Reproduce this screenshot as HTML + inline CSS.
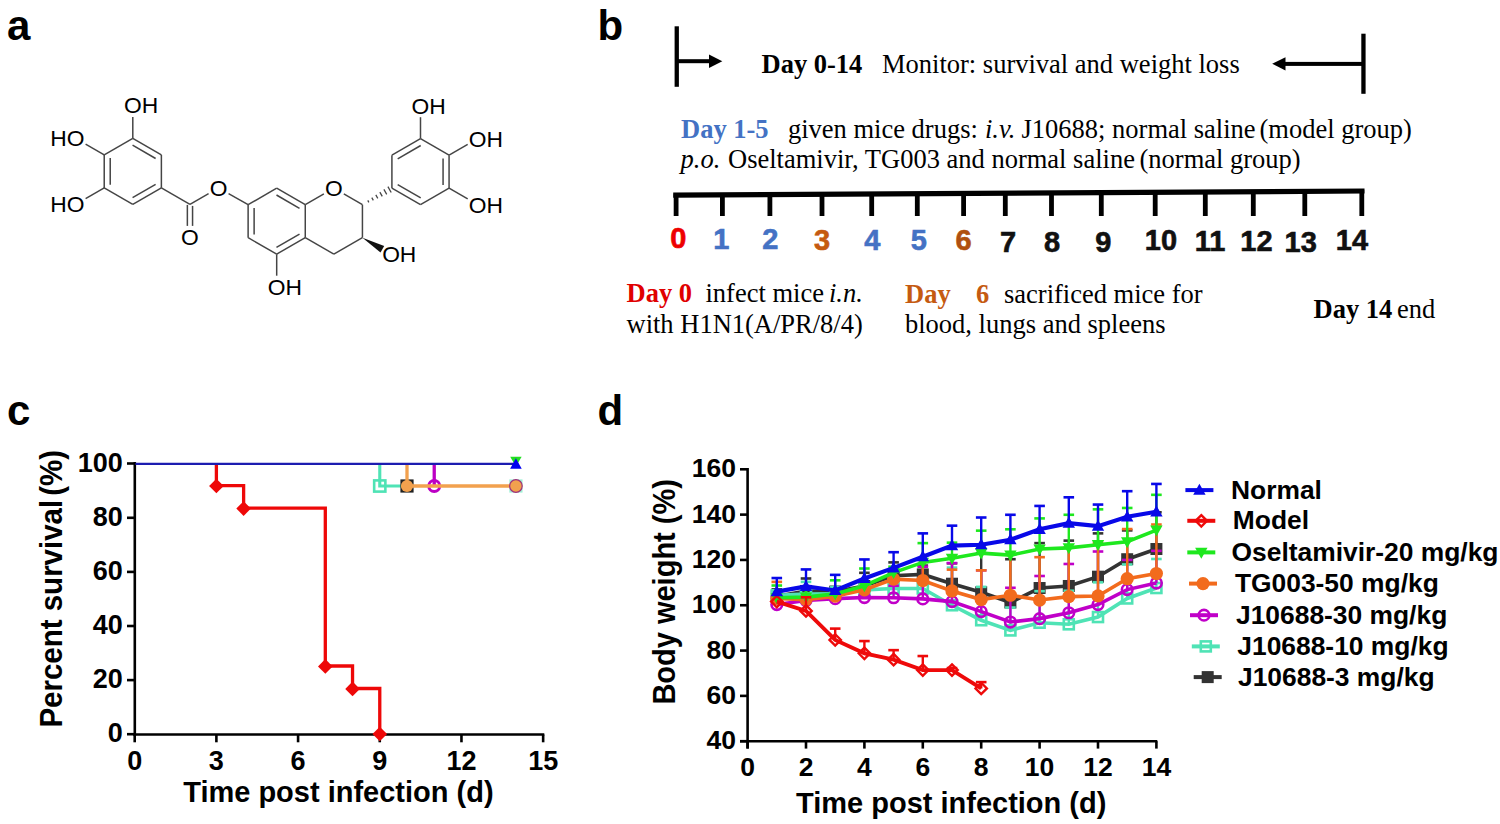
<!DOCTYPE html>
<html><head><meta charset="utf-8"><title>Figure</title>
<style>
html,body{margin:0;padding:0;background:#fff;}
body{width:1500px;height:824px;overflow:hidden;font-family:"Liberation Sans",sans-serif;}
svg{display:block;}
</style></head>
<body>
<svg width="1500" height="824" viewBox="0 0 1500 824">
<rect width="1500" height="824" fill="#fff"/>
<text x="7.00" y="40.20" font-family='"Liberation Sans", sans-serif' font-size="42" font-weight="bold" fill="#000" text-anchor="start" >a</text>
<text x="597.50" y="40.20" font-family='"Liberation Sans", sans-serif' font-size="42" font-weight="bold" fill="#000" text-anchor="start" >b</text>
<text x="7.00" y="425.30" font-family='"Liberation Sans", sans-serif' font-size="42" font-weight="bold" fill="#000" text-anchor="start" >c</text>
<text x="597.50" y="425.30" font-family='"Liberation Sans", sans-serif' font-size="42" font-weight="bold" fill="#000" text-anchor="start" >d</text>
<line x1="132.80" y1="138.40" x2="161.38" y2="154.90" stroke="#454545" stroke-width="1.5" stroke-linecap="butt" />
<line x1="161.38" y1="154.90" x2="161.38" y2="187.90" stroke="#454545" stroke-width="1.5" stroke-linecap="butt" />
<line x1="161.38" y1="187.90" x2="132.80" y2="204.40" stroke="#454545" stroke-width="1.5" stroke-linecap="butt" />
<line x1="132.80" y1="204.40" x2="104.22" y2="187.90" stroke="#454545" stroke-width="1.5" stroke-linecap="butt" />
<line x1="104.22" y1="187.90" x2="104.22" y2="154.90" stroke="#454545" stroke-width="1.5" stroke-linecap="butt" />
<line x1="104.22" y1="154.90" x2="132.80" y2="138.40" stroke="#454545" stroke-width="1.5" stroke-linecap="butt" />
<line x1="132.57" y1="145.20" x2="155.61" y2="158.50" stroke="#454545" stroke-width="1.5" stroke-linecap="butt" />
<line x1="155.61" y1="184.30" x2="132.57" y2="197.60" stroke="#454545" stroke-width="1.5" stroke-linecap="butt" />
<line x1="110.22" y1="184.70" x2="110.22" y2="158.10" stroke="#454545" stroke-width="1.5" stroke-linecap="butt" />
<line x1="132.80" y1="138.40" x2="132.80" y2="116.90" stroke="#454545" stroke-width="1.5" stroke-linecap="butt" />
<text x="123.93" y="113.30" font-family='"Liberation Sans", sans-serif' font-size="22.8" font-weight="normal" fill="#000" text-anchor="start" >OH</text>
<line x1="104.22" y1="154.90" x2="85.60" y2="144.15" stroke="#454545" stroke-width="1.5" stroke-linecap="butt" />
<text x="84.51" y="146.30" font-family='"Liberation Sans", sans-serif' font-size="22.8" font-weight="normal" fill="#000" text-anchor="end" >HO</text>
<line x1="104.22" y1="187.90" x2="85.60" y2="198.65" stroke="#454545" stroke-width="1.5" stroke-linecap="butt" />
<text x="84.51" y="212.30" font-family='"Liberation Sans", sans-serif' font-size="22.8" font-weight="normal" fill="#000" text-anchor="end" >HO</text>
<line x1="161.38" y1="187.90" x2="189.96" y2="204.40" stroke="#454545" stroke-width="1.5" stroke-linecap="butt" />
<line x1="187.36" y1="204.90" x2="187.36" y2="225.90" stroke="#454545" stroke-width="1.5" stroke-linecap="butt" />
<line x1="192.56" y1="205.90" x2="192.56" y2="225.90" stroke="#454545" stroke-width="1.5" stroke-linecap="butt" />
<text x="189.96" y="245.30" font-family='"Liberation Sans", sans-serif' font-size="22.8" font-weight="normal" fill="#000" text-anchor="middle" >O</text>
<line x1="189.96" y1="204.40" x2="208.58" y2="193.65" stroke="#454545" stroke-width="1.5" stroke-linecap="butt" />
<text x="218.54" y="195.80" font-family='"Liberation Sans", sans-serif' font-size="22.8" font-weight="normal" fill="#000" text-anchor="middle" >O</text>
<line x1="276.69" y1="188.20" x2="305.27" y2="204.70" stroke="#454545" stroke-width="1.5" stroke-linecap="butt" />
<line x1="305.27" y1="204.70" x2="305.27" y2="237.70" stroke="#454545" stroke-width="1.5" stroke-linecap="butt" />
<line x1="305.27" y1="237.70" x2="276.69" y2="254.20" stroke="#454545" stroke-width="1.5" stroke-linecap="butt" />
<line x1="276.69" y1="254.20" x2="248.12" y2="237.70" stroke="#454545" stroke-width="1.5" stroke-linecap="butt" />
<line x1="248.12" y1="237.70" x2="248.12" y2="204.70" stroke="#454545" stroke-width="1.5" stroke-linecap="butt" />
<line x1="248.12" y1="204.70" x2="276.69" y2="188.20" stroke="#454545" stroke-width="1.5" stroke-linecap="butt" />
<line x1="276.47" y1="195.00" x2="299.50" y2="208.30" stroke="#454545" stroke-width="1.5" stroke-linecap="butt" />
<line x1="299.50" y1="234.10" x2="276.47" y2="247.40" stroke="#454545" stroke-width="1.5" stroke-linecap="butt" />
<line x1="254.12" y1="234.50" x2="254.12" y2="207.90" stroke="#454545" stroke-width="1.5" stroke-linecap="butt" />
<line x1="228.54" y1="193.58" x2="248.12" y2="204.70" stroke="#454545" stroke-width="1.5" stroke-linecap="butt" />
<line x1="276.69" y1="254.20" x2="276.69" y2="275.70" stroke="#454545" stroke-width="1.5" stroke-linecap="butt" />
<text x="267.82" y="295.10" font-family='"Liberation Sans", sans-serif' font-size="22.8" font-weight="normal" fill="#000" text-anchor="start" >OH</text>
<line x1="305.27" y1="204.70" x2="323.89" y2="193.95" stroke="#454545" stroke-width="1.5" stroke-linecap="butt" />
<line x1="343.81" y1="193.95" x2="362.43" y2="204.70" stroke="#454545" stroke-width="1.5" stroke-linecap="butt" />
<line x1="362.43" y1="204.70" x2="362.43" y2="237.70" stroke="#454545" stroke-width="1.5" stroke-linecap="butt" />
<line x1="362.43" y1="237.70" x2="333.85" y2="254.20" stroke="#454545" stroke-width="1.5" stroke-linecap="butt" />
<line x1="333.85" y1="254.20" x2="305.27" y2="237.70" stroke="#454545" stroke-width="1.5" stroke-linecap="butt" />
<text x="333.85" y="196.10" font-family='"Liberation Sans", sans-serif' font-size="22.8" font-weight="normal" fill="#000" text-anchor="middle" >O</text>
<line x1="420.49" y1="138.70" x2="449.07" y2="155.20" stroke="#454545" stroke-width="1.5" stroke-linecap="butt" />
<line x1="449.07" y1="155.20" x2="449.07" y2="188.20" stroke="#454545" stroke-width="1.5" stroke-linecap="butt" />
<line x1="449.07" y1="188.20" x2="420.49" y2="204.70" stroke="#454545" stroke-width="1.5" stroke-linecap="butt" />
<line x1="420.49" y1="204.70" x2="391.91" y2="188.20" stroke="#454545" stroke-width="1.5" stroke-linecap="butt" />
<line x1="391.91" y1="188.20" x2="391.91" y2="155.20" stroke="#454545" stroke-width="1.5" stroke-linecap="butt" />
<line x1="391.91" y1="155.20" x2="420.49" y2="138.70" stroke="#454545" stroke-width="1.5" stroke-linecap="butt" />
<line x1="397.68" y1="158.80" x2="420.72" y2="145.50" stroke="#454545" stroke-width="1.5" stroke-linecap="butt" />
<line x1="443.07" y1="158.40" x2="443.07" y2="185.00" stroke="#454545" stroke-width="1.5" stroke-linecap="butt" />
<line x1="420.72" y1="197.90" x2="397.68" y2="184.60" stroke="#454545" stroke-width="1.5" stroke-linecap="butt" />
<line x1="367.78" y1="200.42" x2="368.87" y2="202.38" stroke="#454545" stroke-width="1.25" stroke-linecap="butt" />
<line x1="371.81" y1="197.66" x2="373.34" y2="200.39" stroke="#454545" stroke-width="1.25" stroke-linecap="butt" />
<line x1="375.83" y1="194.89" x2="377.80" y2="198.40" stroke="#454545" stroke-width="1.25" stroke-linecap="butt" />
<line x1="379.86" y1="192.13" x2="382.26" y2="196.42" stroke="#454545" stroke-width="1.25" stroke-linecap="butt" />
<line x1="383.89" y1="189.36" x2="386.73" y2="194.43" stroke="#454545" stroke-width="1.25" stroke-linecap="butt" />
<line x1="387.91" y1="186.60" x2="391.19" y2="192.44" stroke="#454545" stroke-width="1.25" stroke-linecap="butt" />
<polygon points="362.43,237.70 380.50,252.40 384.20,246.00" fill="#111"/>
<text x="382.14" y="262.10" font-family='"Liberation Sans", sans-serif' font-size="22.8" font-weight="normal" fill="#000" text-anchor="start" >OH</text>
<line x1="420.49" y1="138.70" x2="420.49" y2="117.20" stroke="#454545" stroke-width="1.5" stroke-linecap="butt" />
<text x="411.62" y="113.60" font-family='"Liberation Sans", sans-serif' font-size="22.8" font-weight="normal" fill="#000" text-anchor="start" >OH</text>
<line x1="449.07" y1="155.20" x2="467.69" y2="144.45" stroke="#454545" stroke-width="1.5" stroke-linecap="butt" />
<text x="468.78" y="146.60" font-family='"Liberation Sans", sans-serif' font-size="22.8" font-weight="normal" fill="#000" text-anchor="start" >OH</text>
<line x1="449.07" y1="188.20" x2="467.69" y2="198.95" stroke="#454545" stroke-width="1.5" stroke-linecap="butt" />
<text x="468.78" y="212.60" font-family='"Liberation Sans", sans-serif' font-size="22.8" font-weight="normal" fill="#000" text-anchor="start" >OH</text>
<rect x="674.6" y="26.3" width="4.3" height="60.5" fill="#000"/>
<rect x="678" y="59.2" width="32" height="4" fill="#000"/>
<polygon points="709,54.5 722.3,61.2 709,67.9" fill="#000"/>
<rect x="1361.3" y="33.7" width="4.3" height="60.1" fill="#000"/>
<rect x="1284" y="61.9" width="78" height="4" fill="#000"/>
<polygon points="1285.5,57.3 1272.2,63.8 1285.5,70.4" fill="#000"/>
<text x="761.50" y="73.30" font-family='"Liberation Serif", serif' font-size="26.5" font-weight="bold" fill="#000" text-anchor="start" >Day 0-14</text>
<text x="882.00" y="73.30" font-family='"Liberation Serif", serif' font-size="26.5" font-weight="normal" fill="#000" text-anchor="start" >Monitor: survival and weight loss</text>
<text x="681.00" y="137.90" font-family='"Liberation Serif", serif' font-size="26.5" font-weight="bold" fill="#4472C4" text-anchor="start" >Day 1-5</text>
<text x="788.00" y="137.90" font-family='"Liberation Serif", serif' font-size="26.5" font-weight="normal" fill="#000" text-anchor="start" >given mice drugs:</text>
<text x="985.00" y="137.90" font-family='"Liberation Serif", serif' font-size="26.5" font-weight="normal" fill="#000" text-anchor="start" font-style="italic">i.v.</text>
<text x="1021.50" y="137.90" font-family='"Liberation Serif", serif' font-size="26.5" font-weight="normal" fill="#000" text-anchor="start" >J10688; normal saline</text>
<text x="1259.50" y="137.90" font-family='"Liberation Serif", serif' font-size="26.5" font-weight="normal" fill="#000" text-anchor="start" >(model group)</text>
<text x="680.50" y="167.50" font-family='"Liberation Serif", serif' font-size="26.5" font-weight="normal" fill="#000" text-anchor="start" font-style="italic">p.o.</text>
<text x="728.00" y="167.50" font-family='"Liberation Serif", serif' font-size="26.5" font-weight="normal" fill="#000" text-anchor="start" >Oseltamivir, TG003 and normal saline</text>
<text x="1139.50" y="167.50" font-family='"Liberation Serif", serif' font-size="26.5" font-weight="normal" fill="#000" text-anchor="start" >(normal group)</text>
<polygon points="673.2,192.6 1364.5,188.4 1364.5,193.6 673.2,197.8" fill="#000"/>
<rect x="673.70" y="194.18" width="4.8" height="21.82" fill="#000"/>
<rect x="720.00" y="193.90" width="4.8" height="22.10" fill="#000"/>
<rect x="767.50" y="193.61" width="4.8" height="22.39" fill="#000"/>
<rect x="819.60" y="193.30" width="4.8" height="22.70" fill="#000"/>
<rect x="869.30" y="192.99" width="4.8" height="23.01" fill="#000"/>
<rect x="914.90" y="192.72" width="4.8" height="23.28" fill="#000"/>
<rect x="961.20" y="192.44" width="4.8" height="23.56" fill="#000"/>
<rect x="1002.90" y="192.18" width="4.8" height="23.82" fill="#000"/>
<rect x="1049.10" y="191.90" width="4.8" height="24.10" fill="#000"/>
<rect x="1098.90" y="191.60" width="4.8" height="24.40" fill="#000"/>
<rect x="1152.80" y="191.27" width="4.8" height="24.73" fill="#000"/>
<rect x="1202.90" y="190.97" width="4.8" height="25.03" fill="#000"/>
<rect x="1250.90" y="190.68" width="4.8" height="25.32" fill="#000"/>
<rect x="1302.40" y="190.36" width="4.8" height="25.64" fill="#000"/>
<rect x="1359.40" y="190.02" width="4.8" height="25.98" fill="#000"/>
<text x="678.40" y="248.20" font-family='"Liberation Sans", sans-serif' font-size="29" font-weight="bold" fill="#EE0000" text-anchor="middle" stroke="#EE0000" stroke-width="0.6">0</text>
<text x="721.20" y="248.80" font-family='"Liberation Sans", sans-serif' font-size="29" font-weight="bold" fill="#4472C4" text-anchor="middle" stroke="#4472C4" stroke-width="0.6">1</text>
<text x="770.40" y="249.00" font-family='"Liberation Sans", sans-serif' font-size="29" font-weight="bold" fill="#4472C4" text-anchor="middle" stroke="#4472C4" stroke-width="0.6">2</text>
<text x="822.00" y="249.60" font-family='"Liberation Sans", sans-serif' font-size="29" font-weight="bold" fill="#C55A11" text-anchor="middle" stroke="#C55A11" stroke-width="0.6">3</text>
<text x="872.40" y="250.00" font-family='"Liberation Sans", sans-serif' font-size="29" font-weight="bold" fill="#4472C4" text-anchor="middle" stroke="#4472C4" stroke-width="0.6">4</text>
<text x="918.70" y="250.00" font-family='"Liberation Sans", sans-serif' font-size="29" font-weight="bold" fill="#4472C4" text-anchor="middle" stroke="#4472C4" stroke-width="0.6">5</text>
<text x="963.60" y="250.20" font-family='"Liberation Sans", sans-serif' font-size="29" font-weight="bold" fill="#B0500F" text-anchor="middle" stroke="#B0500F" stroke-width="0.6">6</text>
<text x="1008.00" y="252.00" font-family='"Liberation Sans", sans-serif' font-size="29" font-weight="bold" fill="#111" text-anchor="middle" stroke="#111" stroke-width="0.6">7</text>
<text x="1052.00" y="252.00" font-family='"Liberation Sans", sans-serif' font-size="29" font-weight="bold" fill="#111" text-anchor="middle" stroke="#111" stroke-width="0.6">8</text>
<text x="1103.40" y="251.50" font-family='"Liberation Sans", sans-serif' font-size="29" font-weight="bold" fill="#111" text-anchor="middle" stroke="#111" stroke-width="0.6">9</text>
<text x="1161.00" y="250.00" font-family='"Liberation Sans", sans-serif' font-size="29" font-weight="bold" fill="#111" text-anchor="middle" stroke="#111" stroke-width="0.6">10</text>
<text x="1210.00" y="250.50" font-family='"Liberation Sans", sans-serif' font-size="29" font-weight="bold" fill="#111" text-anchor="middle" stroke="#111" stroke-width="0.6">11</text>
<text x="1256.50" y="250.50" font-family='"Liberation Sans", sans-serif' font-size="29" font-weight="bold" fill="#111" text-anchor="middle" stroke="#111" stroke-width="0.6">12</text>
<text x="1300.70" y="252.00" font-family='"Liberation Sans", sans-serif' font-size="29" font-weight="bold" fill="#111" text-anchor="middle" stroke="#111" stroke-width="0.6">13</text>
<text x="1352.00" y="250.20" font-family='"Liberation Sans", sans-serif' font-size="29" font-weight="bold" fill="#111" text-anchor="middle" stroke="#111" stroke-width="0.6">14</text>
<text x="626.50" y="302.00" font-family='"Liberation Serif", serif' font-size="26.5" font-weight="bold" fill="#E00000" text-anchor="start" >Day 0</text>
<text x="705.50" y="302.00" font-family='"Liberation Serif", serif' font-size="26.5" font-weight="normal" fill="#000" text-anchor="start" >infect mice</text>
<text x="829.00" y="302.00" font-family='"Liberation Serif", serif' font-size="26.5" font-weight="normal" fill="#000" text-anchor="start" font-style="italic">i.n.</text>
<text x="626.50" y="332.70" font-family='"Liberation Serif", serif' font-size="26.5" font-weight="normal" fill="#000" text-anchor="start" >with H1N1(A/PR/8/4)</text>
<text x="905.00" y="303.00" font-family='"Liberation Serif", serif' font-size="26.5" font-weight="bold" fill="#C55A11" text-anchor="start" >Day</text>
<text x="976.00" y="303.00" font-family='"Liberation Serif", serif' font-size="26.5" font-weight="bold" fill="#C55A11" text-anchor="start" >6</text>
<text x="1004.00" y="303.00" font-family='"Liberation Serif", serif' font-size="26.5" font-weight="normal" fill="#000" text-anchor="start" >sacrificed mice for</text>
<text x="905.00" y="333.00" font-family='"Liberation Serif", serif' font-size="26.5" font-weight="normal" fill="#000" text-anchor="start" >blood, lungs and spleens</text>
<text x="1313.50" y="317.70" font-family='"Liberation Serif", serif' font-size="26.5" font-weight="bold" fill="#000" text-anchor="start" >Day 14</text>
<text x="1397.00" y="317.70" font-family='"Liberation Serif", serif' font-size="26.5" font-weight="normal" fill="#000" text-anchor="start" >end</text>
<line x1="134.80" y1="462.00" x2="134.80" y2="735.80" stroke="#000" stroke-width="2.6" stroke-linecap="butt" />
<line x1="133.50" y1="734.50" x2="544.30" y2="734.50" stroke="#000" stroke-width="2.6" stroke-linecap="butt" />
<line x1="127.00" y1="734.20" x2="135.00" y2="734.20" stroke="#000" stroke-width="2.6" stroke-linecap="butt" />
<text x="122.80" y="742.40" font-family='"Liberation Sans", sans-serif' font-size="27" font-weight="bold" fill="#000" text-anchor="end" >0</text>
<line x1="127.00" y1="680.10" x2="135.00" y2="680.10" stroke="#000" stroke-width="2.6" stroke-linecap="butt" />
<text x="122.80" y="688.30" font-family='"Liberation Sans", sans-serif' font-size="27" font-weight="bold" fill="#000" text-anchor="end" >20</text>
<line x1="127.00" y1="626.00" x2="135.00" y2="626.00" stroke="#000" stroke-width="2.6" stroke-linecap="butt" />
<text x="122.80" y="634.20" font-family='"Liberation Sans", sans-serif' font-size="27" font-weight="bold" fill="#000" text-anchor="end" >40</text>
<line x1="127.00" y1="571.90" x2="135.00" y2="571.90" stroke="#000" stroke-width="2.6" stroke-linecap="butt" />
<text x="122.80" y="580.10" font-family='"Liberation Sans", sans-serif' font-size="27" font-weight="bold" fill="#000" text-anchor="end" >60</text>
<line x1="127.00" y1="517.80" x2="135.00" y2="517.80" stroke="#000" stroke-width="2.6" stroke-linecap="butt" />
<text x="122.80" y="526.00" font-family='"Liberation Sans", sans-serif' font-size="27" font-weight="bold" fill="#000" text-anchor="end" >80</text>
<line x1="127.00" y1="463.50" x2="135.00" y2="463.50" stroke="#000" stroke-width="2.6" stroke-linecap="butt" />
<text x="122.80" y="471.70" font-family='"Liberation Sans", sans-serif' font-size="27" font-weight="bold" fill="#000" text-anchor="end" >100</text>
<line x1="134.70" y1="734.50" x2="134.70" y2="742.30" stroke="#000" stroke-width="2.6" stroke-linecap="butt" />
<text x="134.70" y="770.30" font-family='"Liberation Sans", sans-serif' font-size="27" font-weight="bold" fill="#000" text-anchor="middle" >0</text>
<line x1="216.39" y1="734.50" x2="216.39" y2="742.30" stroke="#000" stroke-width="2.6" stroke-linecap="butt" />
<text x="216.39" y="770.30" font-family='"Liberation Sans", sans-serif' font-size="27" font-weight="bold" fill="#000" text-anchor="middle" >3</text>
<line x1="298.08" y1="734.50" x2="298.08" y2="742.30" stroke="#000" stroke-width="2.6" stroke-linecap="butt" />
<text x="298.08" y="770.30" font-family='"Liberation Sans", sans-serif' font-size="27" font-weight="bold" fill="#000" text-anchor="middle" >6</text>
<line x1="379.77" y1="734.50" x2="379.77" y2="742.30" stroke="#000" stroke-width="2.6" stroke-linecap="butt" />
<text x="379.77" y="770.30" font-family='"Liberation Sans", sans-serif' font-size="27" font-weight="bold" fill="#000" text-anchor="middle" >9</text>
<line x1="461.46" y1="734.50" x2="461.46" y2="742.30" stroke="#000" stroke-width="2.6" stroke-linecap="butt" />
<text x="461.46" y="770.30" font-family='"Liberation Sans", sans-serif' font-size="27" font-weight="bold" fill="#000" text-anchor="middle" >12</text>
<line x1="543.15" y1="734.50" x2="543.15" y2="742.30" stroke="#000" stroke-width="2.6" stroke-linecap="butt" />
<text x="543.15" y="770.30" font-family='"Liberation Sans", sans-serif' font-size="27" font-weight="bold" fill="#000" text-anchor="middle" >15</text>
<text x="338.40" y="802.00" font-family='"Liberation Sans", sans-serif' font-size="29" font-weight="bold" fill="#000" text-anchor="middle" >Time post infection (d)</text>
<text transform="translate(62.4,727.6) rotate(-90) scale(1,1.06)" font-family='"Liberation Sans", sans-serif' font-size="29.5" font-weight="bold">Percent survival<tspan dx="4">(%)</tspan></text>
<polyline points="379.77,463.80 379.77,486.00 407.00,486.00" fill="none" stroke="#4FE3B5" stroke-width="3.1" stroke-linejoin="miter"/>
<rect x="374.17" y="480.40" width="11.2" height="11.2" fill="none" stroke="#4FE3B5" stroke-width="2.6"/>
<rect x="509.32" y="479.40" width="13.2" height="13.2" fill="#4FE3B5" opacity="0.55"/>
<rect x="400.40" y="479.40" width="13.2" height="13.2" fill="#222"/>
<polyline points="434.23,463.80 434.23,486.00" fill="none" stroke="#BC00C4" stroke-width="3.3" stroke-linejoin="miter"/>
<circle cx="434.23" cy="486.0" r="5.5" fill="none" stroke="#BC00C4" stroke-width="2.9"/>
<polyline points="407.00,463.80 407.00,486.00 515.92,486.00" fill="none" stroke="#F2A14E" stroke-width="3.3" stroke-linejoin="miter"/>
<circle cx="407.00" cy="486.0" r="6.1" fill="#F2A14E"/>
<circle cx="515.92" cy="486.0" r="6.3" fill="#F2A14E" stroke="#a0307a" stroke-width="1.2"/>
<polyline points="216.39,463.80 216.39,485.63 243.62,485.63 243.62,508.19 325.31,508.19 325.31,665.98 352.54,665.98 352.54,688.51 379.77,688.51 379.77,734.10" fill="none" stroke="#EE0808" stroke-width="3.3" stroke-linejoin="miter"/>
<polygon points="216.39,478.73 223.69,486.03 216.39,493.33 209.09,486.03" fill="#EE0808" />
<polygon points="243.62,501.29 250.92,508.59 243.62,515.89 236.32,508.59" fill="#EE0808" />
<polygon points="325.31,659.08 332.61,666.38 325.31,673.67 318.01,666.38" fill="#EE0808" />
<polygon points="352.54,681.61 359.84,688.91 352.54,696.21 345.24,688.91" fill="#EE0808" />
<polygon points="379.77,726.70 387.07,734.00 379.77,741.30 372.47,734.00" fill="#EE0808" />
<polygon points="510.22,456.80 521.62,456.80 515.92,466.50" fill="#22DD22"/>
<line x1="135.50" y1="463.80" x2="515.92" y2="463.80" stroke="#1C1CB0" stroke-width="2.3" stroke-linecap="butt" />
<polygon points="510.12,468.80 521.72,468.80 515.92,458.30" fill="#0000F0"/>
<line x1="747.60" y1="468.00" x2="747.60" y2="748.60" stroke="#000" stroke-width="2.6" stroke-linecap="butt" />
<line x1="740.00" y1="741.20" x2="1157.30" y2="741.20" stroke="#000" stroke-width="2.6" stroke-linecap="butt" />
<line x1="740.00" y1="741.20" x2="747.60" y2="741.20" stroke="#000" stroke-width="2.6" stroke-linecap="butt" />
<text x="736.00" y="749.30" font-family='"Liberation Sans", sans-serif' font-size="26.5" font-weight="bold" fill="#000" text-anchor="end" >40</text>
<line x1="740.00" y1="695.88" x2="747.60" y2="695.88" stroke="#000" stroke-width="2.6" stroke-linecap="butt" />
<text x="736.00" y="703.98" font-family='"Liberation Sans", sans-serif' font-size="26.5" font-weight="bold" fill="#000" text-anchor="end" >60</text>
<line x1="740.00" y1="650.57" x2="747.60" y2="650.57" stroke="#000" stroke-width="2.6" stroke-linecap="butt" />
<text x="736.00" y="658.67" font-family='"Liberation Sans", sans-serif' font-size="26.5" font-weight="bold" fill="#000" text-anchor="end" >80</text>
<line x1="740.00" y1="605.25" x2="747.60" y2="605.25" stroke="#000" stroke-width="2.6" stroke-linecap="butt" />
<text x="736.00" y="613.35" font-family='"Liberation Sans", sans-serif' font-size="26.5" font-weight="bold" fill="#000" text-anchor="end" >100</text>
<line x1="740.00" y1="559.94" x2="747.60" y2="559.94" stroke="#000" stroke-width="2.6" stroke-linecap="butt" />
<text x="736.00" y="568.04" font-family='"Liberation Sans", sans-serif' font-size="26.5" font-weight="bold" fill="#000" text-anchor="end" >120</text>
<line x1="740.00" y1="514.62" x2="747.60" y2="514.62" stroke="#000" stroke-width="2.6" stroke-linecap="butt" />
<text x="736.00" y="522.72" font-family='"Liberation Sans", sans-serif' font-size="26.5" font-weight="bold" fill="#000" text-anchor="end" >140</text>
<line x1="740.00" y1="469.30" x2="747.60" y2="469.30" stroke="#000" stroke-width="2.6" stroke-linecap="butt" />
<text x="736.00" y="477.40" font-family='"Liberation Sans", sans-serif' font-size="26.5" font-weight="bold" fill="#000" text-anchor="end" >160</text>
<line x1="747.60" y1="741.20" x2="747.60" y2="748.60" stroke="#000" stroke-width="2.6" stroke-linecap="butt" />
<text x="747.60" y="776.00" font-family='"Liberation Sans", sans-serif' font-size="26.5" font-weight="bold" fill="#000" text-anchor="middle" >0</text>
<line x1="806.00" y1="741.20" x2="806.00" y2="748.60" stroke="#000" stroke-width="2.6" stroke-linecap="butt" />
<text x="806.00" y="776.00" font-family='"Liberation Sans", sans-serif' font-size="26.5" font-weight="bold" fill="#000" text-anchor="middle" >2</text>
<line x1="864.40" y1="741.20" x2="864.40" y2="748.60" stroke="#000" stroke-width="2.6" stroke-linecap="butt" />
<text x="864.40" y="776.00" font-family='"Liberation Sans", sans-serif' font-size="26.5" font-weight="bold" fill="#000" text-anchor="middle" >4</text>
<line x1="922.80" y1="741.20" x2="922.80" y2="748.60" stroke="#000" stroke-width="2.6" stroke-linecap="butt" />
<text x="922.80" y="776.00" font-family='"Liberation Sans", sans-serif' font-size="26.5" font-weight="bold" fill="#000" text-anchor="middle" >6</text>
<line x1="981.20" y1="741.20" x2="981.20" y2="748.60" stroke="#000" stroke-width="2.6" stroke-linecap="butt" />
<text x="981.20" y="776.00" font-family='"Liberation Sans", sans-serif' font-size="26.5" font-weight="bold" fill="#000" text-anchor="middle" >8</text>
<line x1="1039.60" y1="741.20" x2="1039.60" y2="748.60" stroke="#000" stroke-width="2.6" stroke-linecap="butt" />
<text x="1039.60" y="776.00" font-family='"Liberation Sans", sans-serif' font-size="26.5" font-weight="bold" fill="#000" text-anchor="middle" >10</text>
<line x1="1098.00" y1="741.20" x2="1098.00" y2="748.60" stroke="#000" stroke-width="2.6" stroke-linecap="butt" />
<text x="1098.00" y="776.00" font-family='"Liberation Sans", sans-serif' font-size="26.5" font-weight="bold" fill="#000" text-anchor="middle" >12</text>
<line x1="1156.40" y1="741.20" x2="1156.40" y2="748.60" stroke="#000" stroke-width="2.6" stroke-linecap="butt" />
<text x="1156.40" y="776.00" font-family='"Liberation Sans", sans-serif' font-size="26.5" font-weight="bold" fill="#000" text-anchor="middle" >14</text>
<text x="951.20" y="812.80" font-family='"Liberation Sans", sans-serif' font-size="29" font-weight="bold" fill="#000" text-anchor="middle" >Time post infection (d)</text>
<text transform="translate(675.1,704.6) rotate(-90) scale(1,1.06)" font-family='"Liberation Sans", sans-serif' font-size="29" font-weight="bold">Body weight (%)</text>
<g>
<line x1="776.80" y1="596.18" x2="776.80" y2="589.38" stroke="#333333" stroke-width="2.4" stroke-linecap="butt" />
<line x1="771.50" y1="589.38" x2="782.10" y2="589.38" stroke="#333333" stroke-width="2.6" stroke-linecap="butt" />
<line x1="806.00" y1="590.96" x2="806.00" y2="578.49" stroke="#333333" stroke-width="2.4" stroke-linecap="butt" />
<line x1="800.70" y1="578.49" x2="811.30" y2="578.49" stroke="#333333" stroke-width="2.6" stroke-linecap="butt" />
<line x1="835.20" y1="591.64" x2="835.20" y2="587.11" stroke="#333333" stroke-width="2.4" stroke-linecap="butt" />
<line x1="829.90" y1="587.11" x2="840.50" y2="587.11" stroke="#333333" stroke-width="2.6" stroke-linecap="butt" />
<line x1="864.40" y1="585.98" x2="864.40" y2="572.82" stroke="#333333" stroke-width="2.4" stroke-linecap="butt" />
<line x1="859.10" y1="572.82" x2="869.70" y2="572.82" stroke="#333333" stroke-width="2.6" stroke-linecap="butt" />
<line x1="893.60" y1="575.77" x2="893.60" y2="562.39" stroke="#333333" stroke-width="2.4" stroke-linecap="butt" />
<line x1="888.30" y1="562.39" x2="898.90" y2="562.39" stroke="#333333" stroke-width="2.6" stroke-linecap="butt" />
<line x1="922.80" y1="574.41" x2="922.80" y2="565.57" stroke="#333333" stroke-width="2.4" stroke-linecap="butt" />
<line x1="917.50" y1="565.57" x2="928.10" y2="565.57" stroke="#333333" stroke-width="2.6" stroke-linecap="butt" />
<line x1="952.00" y1="583.71" x2="952.00" y2="563.30" stroke="#333333" stroke-width="2.4" stroke-linecap="butt" />
<line x1="946.70" y1="563.30" x2="957.30" y2="563.30" stroke="#333333" stroke-width="2.6" stroke-linecap="butt" />
<line x1="981.20" y1="592.33" x2="981.20" y2="553.10" stroke="#333333" stroke-width="2.4" stroke-linecap="butt" />
<line x1="975.90" y1="553.10" x2="986.50" y2="553.10" stroke="#333333" stroke-width="2.6" stroke-linecap="butt" />
<line x1="1010.40" y1="602.53" x2="1010.40" y2="559.22" stroke="#333333" stroke-width="2.4" stroke-linecap="butt" />
<line x1="1005.10" y1="559.22" x2="1015.70" y2="559.22" stroke="#333333" stroke-width="2.6" stroke-linecap="butt" />
<line x1="1039.60" y1="588.02" x2="1039.60" y2="543.12" stroke="#333333" stroke-width="2.4" stroke-linecap="butt" />
<line x1="1034.30" y1="543.12" x2="1044.90" y2="543.12" stroke="#333333" stroke-width="2.6" stroke-linecap="butt" />
<line x1="1068.80" y1="585.98" x2="1068.80" y2="540.63" stroke="#333333" stroke-width="2.4" stroke-linecap="butt" />
<line x1="1063.50" y1="540.63" x2="1074.10" y2="540.63" stroke="#333333" stroke-width="2.6" stroke-linecap="butt" />
<line x1="1098.00" y1="576.68" x2="1098.00" y2="533.37" stroke="#333333" stroke-width="2.4" stroke-linecap="butt" />
<line x1="1092.70" y1="533.37" x2="1103.30" y2="533.37" stroke="#333333" stroke-width="2.6" stroke-linecap="butt" />
<line x1="1127.20" y1="559.22" x2="1127.20" y2="530.42" stroke="#333333" stroke-width="2.4" stroke-linecap="butt" />
<line x1="1121.90" y1="530.42" x2="1132.50" y2="530.42" stroke="#333333" stroke-width="2.6" stroke-linecap="butt" />
<line x1="1156.40" y1="549.02" x2="1156.40" y2="512.28" stroke="#333333" stroke-width="2.4" stroke-linecap="butt" />
<line x1="1151.10" y1="512.28" x2="1161.70" y2="512.28" stroke="#333333" stroke-width="2.6" stroke-linecap="butt" />
<polyline points="776.80,596.18 806.00,590.96 835.20,591.64 864.40,585.98 893.60,575.77 922.80,574.41 952.00,583.71 981.20,592.33 1010.40,602.53 1039.60,588.02 1068.80,585.98 1098.00,576.68 1127.20,559.22 1156.40,549.02" fill="none" stroke="#333333" stroke-width="3.6" stroke-linejoin="miter"/>
<rect x="770.80" y="590.18" width="12.00" height="12.00" fill="#333333"/>
<rect x="800.00" y="584.96" width="12.00" height="12.00" fill="#333333"/>
<rect x="829.20" y="585.64" width="12.00" height="12.00" fill="#333333"/>
<rect x="858.40" y="579.98" width="12.00" height="12.00" fill="#333333"/>
<rect x="887.60" y="569.77" width="12.00" height="12.00" fill="#333333"/>
<rect x="916.80" y="568.41" width="12.00" height="12.00" fill="#333333"/>
<rect x="946.00" y="577.71" width="12.00" height="12.00" fill="#333333"/>
<rect x="975.20" y="586.33" width="12.00" height="12.00" fill="#333333"/>
<rect x="1004.40" y="596.53" width="12.00" height="12.00" fill="#333333"/>
<rect x="1033.60" y="582.02" width="12.00" height="12.00" fill="#333333"/>
<rect x="1062.80" y="579.98" width="12.00" height="12.00" fill="#333333"/>
<rect x="1092.00" y="570.68" width="12.00" height="12.00" fill="#333333"/>
<rect x="1121.20" y="553.22" width="12.00" height="12.00" fill="#333333"/>
<rect x="1150.40" y="543.02" width="12.00" height="12.00" fill="#333333"/>
<line x1="776.80" y1="595.27" x2="776.80" y2="593.91" stroke="#4FE3B5" stroke-width="2.4" stroke-linecap="butt" />
<line x1="771.50" y1="593.91" x2="782.10" y2="593.91" stroke="#4FE3B5" stroke-width="2.6" stroke-linecap="butt" />
<line x1="806.00" y1="594.14" x2="806.00" y2="581.89" stroke="#4FE3B5" stroke-width="2.4" stroke-linecap="butt" />
<line x1="800.70" y1="581.89" x2="811.30" y2="581.89" stroke="#4FE3B5" stroke-width="2.6" stroke-linecap="butt" />
<line x1="835.20" y1="593.91" x2="835.20" y2="587.11" stroke="#4FE3B5" stroke-width="2.4" stroke-linecap="butt" />
<line x1="829.90" y1="587.11" x2="840.50" y2="587.11" stroke="#4FE3B5" stroke-width="2.6" stroke-linecap="butt" />
<line x1="864.40" y1="589.83" x2="864.40" y2="582.57" stroke="#4FE3B5" stroke-width="2.4" stroke-linecap="butt" />
<line x1="859.10" y1="582.57" x2="869.70" y2="582.57" stroke="#4FE3B5" stroke-width="2.6" stroke-linecap="butt" />
<line x1="893.60" y1="588.47" x2="893.60" y2="580.31" stroke="#4FE3B5" stroke-width="2.4" stroke-linecap="butt" />
<line x1="888.30" y1="580.31" x2="898.90" y2="580.31" stroke="#4FE3B5" stroke-width="2.6" stroke-linecap="butt" />
<line x1="922.80" y1="588.47" x2="922.80" y2="580.31" stroke="#4FE3B5" stroke-width="2.4" stroke-linecap="butt" />
<line x1="917.50" y1="580.31" x2="928.10" y2="580.31" stroke="#4FE3B5" stroke-width="2.6" stroke-linecap="butt" />
<line x1="952.00" y1="605.25" x2="952.00" y2="567.61" stroke="#4FE3B5" stroke-width="2.4" stroke-linecap="butt" />
<line x1="946.70" y1="567.61" x2="957.30" y2="567.61" stroke="#4FE3B5" stroke-width="2.6" stroke-linecap="butt" />
<line x1="981.20" y1="620.22" x2="981.20" y2="586.88" stroke="#4FE3B5" stroke-width="2.4" stroke-linecap="butt" />
<line x1="975.90" y1="586.88" x2="986.50" y2="586.88" stroke="#4FE3B5" stroke-width="2.6" stroke-linecap="butt" />
<line x1="1010.40" y1="630.42" x2="1010.40" y2="607.52" stroke="#4FE3B5" stroke-width="2.4" stroke-linecap="butt" />
<line x1="1005.10" y1="607.52" x2="1015.70" y2="607.52" stroke="#4FE3B5" stroke-width="2.6" stroke-linecap="butt" />
<line x1="1039.60" y1="622.71" x2="1039.60" y2="591.19" stroke="#4FE3B5" stroke-width="2.4" stroke-linecap="butt" />
<line x1="1034.30" y1="591.19" x2="1044.90" y2="591.19" stroke="#4FE3B5" stroke-width="2.6" stroke-linecap="butt" />
<line x1="1068.80" y1="624.30" x2="1068.80" y2="590.74" stroke="#4FE3B5" stroke-width="2.4" stroke-linecap="butt" />
<line x1="1063.50" y1="590.74" x2="1074.10" y2="590.74" stroke="#4FE3B5" stroke-width="2.6" stroke-linecap="butt" />
<line x1="1098.00" y1="617.04" x2="1098.00" y2="582.35" stroke="#4FE3B5" stroke-width="2.4" stroke-linecap="butt" />
<line x1="1092.70" y1="582.35" x2="1103.30" y2="582.35" stroke="#4FE3B5" stroke-width="2.6" stroke-linecap="butt" />
<line x1="1127.20" y1="598.45" x2="1127.20" y2="564.43" stroke="#4FE3B5" stroke-width="2.4" stroke-linecap="butt" />
<line x1="1121.90" y1="564.43" x2="1132.50" y2="564.43" stroke="#4FE3B5" stroke-width="2.6" stroke-linecap="butt" />
<line x1="1156.40" y1="588.02" x2="1156.40" y2="558.99" stroke="#4FE3B5" stroke-width="2.4" stroke-linecap="butt" />
<line x1="1151.10" y1="558.99" x2="1161.70" y2="558.99" stroke="#4FE3B5" stroke-width="2.6" stroke-linecap="butt" />
<polyline points="776.80,595.27 806.00,594.14 835.20,593.91 864.40,589.83 893.60,588.47 922.80,588.47 952.00,605.25 981.20,620.22 1010.40,630.42 1039.60,622.71 1068.80,624.30 1098.00,617.04 1127.20,598.45 1156.40,588.02" fill="none" stroke="#4FE3B5" stroke-width="3.6" stroke-linejoin="miter"/>
<rect x="771.80" y="590.27" width="10.00" height="10.00" fill="#fff" fill-opacity="0" stroke="#4FE3B5" stroke-width="2.6"/>
<rect x="801.00" y="589.14" width="10.00" height="10.00" fill="#fff" fill-opacity="0" stroke="#4FE3B5" stroke-width="2.6"/>
<rect x="830.20" y="588.91" width="10.00" height="10.00" fill="#fff" fill-opacity="0" stroke="#4FE3B5" stroke-width="2.6"/>
<rect x="859.40" y="584.83" width="10.00" height="10.00" fill="#fff" fill-opacity="0" stroke="#4FE3B5" stroke-width="2.6"/>
<rect x="888.60" y="583.47" width="10.00" height="10.00" fill="#fff" fill-opacity="0" stroke="#4FE3B5" stroke-width="2.6"/>
<rect x="917.80" y="583.47" width="10.00" height="10.00" fill="#fff" fill-opacity="0" stroke="#4FE3B5" stroke-width="2.6"/>
<rect x="947.00" y="600.25" width="10.00" height="10.00" fill="#fff" fill-opacity="0" stroke="#4FE3B5" stroke-width="2.6"/>
<rect x="976.20" y="615.22" width="10.00" height="10.00" fill="#fff" fill-opacity="0" stroke="#4FE3B5" stroke-width="2.6"/>
<rect x="1005.40" y="625.42" width="10.00" height="10.00" fill="#fff" fill-opacity="0" stroke="#4FE3B5" stroke-width="2.6"/>
<rect x="1034.60" y="617.71" width="10.00" height="10.00" fill="#fff" fill-opacity="0" stroke="#4FE3B5" stroke-width="2.6"/>
<rect x="1063.80" y="619.30" width="10.00" height="10.00" fill="#fff" fill-opacity="0" stroke="#4FE3B5" stroke-width="2.6"/>
<rect x="1093.00" y="612.04" width="10.00" height="10.00" fill="#fff" fill-opacity="0" stroke="#4FE3B5" stroke-width="2.6"/>
<rect x="1122.20" y="593.45" width="10.00" height="10.00" fill="#fff" fill-opacity="0" stroke="#4FE3B5" stroke-width="2.6"/>
<rect x="1151.40" y="583.02" width="10.00" height="10.00" fill="#fff" fill-opacity="0" stroke="#4FE3B5" stroke-width="2.6"/>
<line x1="776.80" y1="604.57" x2="776.80" y2="598.45" stroke="#C000C8" stroke-width="2.4" stroke-linecap="butt" />
<line x1="771.50" y1="598.45" x2="782.10" y2="598.45" stroke="#C000C8" stroke-width="2.6" stroke-linecap="butt" />
<line x1="806.00" y1="600.49" x2="806.00" y2="596.18" stroke="#C000C8" stroke-width="2.4" stroke-linecap="butt" />
<line x1="800.70" y1="596.18" x2="811.30" y2="596.18" stroke="#C000C8" stroke-width="2.6" stroke-linecap="butt" />
<line x1="835.20" y1="598.67" x2="835.20" y2="596.18" stroke="#C000C8" stroke-width="2.4" stroke-linecap="butt" />
<line x1="829.90" y1="596.18" x2="840.50" y2="596.18" stroke="#C000C8" stroke-width="2.6" stroke-linecap="butt" />
<line x1="864.40" y1="597.54" x2="864.40" y2="595.05" stroke="#C000C8" stroke-width="2.4" stroke-linecap="butt" />
<line x1="859.10" y1="595.05" x2="869.70" y2="595.05" stroke="#C000C8" stroke-width="2.6" stroke-linecap="butt" />
<line x1="893.60" y1="597.77" x2="893.60" y2="585.75" stroke="#C000C8" stroke-width="2.4" stroke-linecap="butt" />
<line x1="888.30" y1="585.75" x2="898.90" y2="585.75" stroke="#C000C8" stroke-width="2.6" stroke-linecap="butt" />
<line x1="922.80" y1="598.90" x2="922.80" y2="566.70" stroke="#C000C8" stroke-width="2.4" stroke-linecap="butt" />
<line x1="917.50" y1="566.70" x2="928.10" y2="566.70" stroke="#C000C8" stroke-width="2.6" stroke-linecap="butt" />
<line x1="952.00" y1="601.62" x2="952.00" y2="563.07" stroke="#C000C8" stroke-width="2.4" stroke-linecap="butt" />
<line x1="946.70" y1="563.07" x2="957.30" y2="563.07" stroke="#C000C8" stroke-width="2.6" stroke-linecap="butt" />
<line x1="981.20" y1="611.60" x2="981.20" y2="570.33" stroke="#C000C8" stroke-width="2.4" stroke-linecap="butt" />
<line x1="975.90" y1="570.33" x2="986.50" y2="570.33" stroke="#C000C8" stroke-width="2.6" stroke-linecap="butt" />
<line x1="1010.40" y1="622.03" x2="1010.40" y2="587.79" stroke="#C000C8" stroke-width="2.4" stroke-linecap="butt" />
<line x1="1005.10" y1="587.79" x2="1015.70" y2="587.79" stroke="#C000C8" stroke-width="2.6" stroke-linecap="butt" />
<line x1="1039.60" y1="618.63" x2="1039.60" y2="576.00" stroke="#C000C8" stroke-width="2.4" stroke-linecap="butt" />
<line x1="1034.30" y1="576.00" x2="1044.90" y2="576.00" stroke="#C000C8" stroke-width="2.6" stroke-linecap="butt" />
<line x1="1068.80" y1="612.73" x2="1068.80" y2="563.98" stroke="#C000C8" stroke-width="2.4" stroke-linecap="butt" />
<line x1="1063.50" y1="563.98" x2="1074.10" y2="563.98" stroke="#C000C8" stroke-width="2.6" stroke-linecap="butt" />
<line x1="1098.00" y1="604.57" x2="1098.00" y2="551.51" stroke="#C000C8" stroke-width="2.4" stroke-linecap="butt" />
<line x1="1092.70" y1="551.51" x2="1103.30" y2="551.51" stroke="#C000C8" stroke-width="2.6" stroke-linecap="butt" />
<line x1="1127.20" y1="589.60" x2="1127.20" y2="559.90" stroke="#C000C8" stroke-width="2.4" stroke-linecap="butt" />
<line x1="1121.90" y1="559.90" x2="1132.50" y2="559.90" stroke="#C000C8" stroke-width="2.6" stroke-linecap="butt" />
<line x1="1156.40" y1="583.03" x2="1156.40" y2="550.83" stroke="#C000C8" stroke-width="2.4" stroke-linecap="butt" />
<line x1="1151.10" y1="550.83" x2="1161.70" y2="550.83" stroke="#C000C8" stroke-width="2.6" stroke-linecap="butt" />
<polyline points="776.80,604.57 806.00,600.49 835.20,598.67 864.40,597.54 893.60,597.77 922.80,598.90 952.00,601.62 981.20,611.60 1010.40,622.03 1039.60,618.63 1068.80,612.73 1098.00,604.57 1127.20,589.60 1156.40,583.03" fill="none" stroke="#C000C8" stroke-width="3.6" stroke-linejoin="miter"/>
<circle cx="776.80" cy="604.57" r="5.30" fill="none" stroke="#C000C8" stroke-width="2.6"/>
<circle cx="806.00" cy="600.49" r="5.30" fill="none" stroke="#C000C8" stroke-width="2.6"/>
<circle cx="835.20" cy="598.67" r="5.30" fill="none" stroke="#C000C8" stroke-width="2.6"/>
<circle cx="864.40" cy="597.54" r="5.30" fill="none" stroke="#C000C8" stroke-width="2.6"/>
<circle cx="893.60" cy="597.77" r="5.30" fill="none" stroke="#C000C8" stroke-width="2.6"/>
<circle cx="922.80" cy="598.90" r="5.30" fill="none" stroke="#C000C8" stroke-width="2.6"/>
<circle cx="952.00" cy="601.62" r="5.30" fill="none" stroke="#C000C8" stroke-width="2.6"/>
<circle cx="981.20" cy="611.60" r="5.30" fill="none" stroke="#C000C8" stroke-width="2.6"/>
<circle cx="1010.40" cy="622.03" r="5.30" fill="none" stroke="#C000C8" stroke-width="2.6"/>
<circle cx="1039.60" cy="618.63" r="5.30" fill="none" stroke="#C000C8" stroke-width="2.6"/>
<circle cx="1068.80" cy="612.73" r="5.30" fill="none" stroke="#C000C8" stroke-width="2.6"/>
<circle cx="1098.00" cy="604.57" r="5.30" fill="none" stroke="#C000C8" stroke-width="2.6"/>
<circle cx="1127.20" cy="589.60" r="5.30" fill="none" stroke="#C000C8" stroke-width="2.6"/>
<circle cx="1156.40" cy="583.03" r="5.30" fill="none" stroke="#C000C8" stroke-width="2.6"/>
<line x1="776.80" y1="598.45" x2="776.80" y2="581.89" stroke="#F26B1D" stroke-width="2.4" stroke-linecap="butt" />
<line x1="771.50" y1="581.89" x2="782.10" y2="581.89" stroke="#F26B1D" stroke-width="2.6" stroke-linecap="butt" />
<line x1="806.00" y1="599.58" x2="806.00" y2="597.31" stroke="#F26B1D" stroke-width="2.4" stroke-linecap="butt" />
<line x1="800.70" y1="597.31" x2="811.30" y2="597.31" stroke="#F26B1D" stroke-width="2.6" stroke-linecap="butt" />
<line x1="835.20" y1="596.18" x2="835.20" y2="591.64" stroke="#F26B1D" stroke-width="2.4" stroke-linecap="butt" />
<line x1="829.90" y1="591.64" x2="840.50" y2="591.64" stroke="#F26B1D" stroke-width="2.6" stroke-linecap="butt" />
<line x1="864.40" y1="589.83" x2="864.40" y2="585.98" stroke="#F26B1D" stroke-width="2.4" stroke-linecap="butt" />
<line x1="859.10" y1="585.98" x2="869.70" y2="585.98" stroke="#F26B1D" stroke-width="2.6" stroke-linecap="butt" />
<line x1="893.60" y1="579.17" x2="893.60" y2="571.24" stroke="#F26B1D" stroke-width="2.4" stroke-linecap="butt" />
<line x1="888.30" y1="571.24" x2="898.90" y2="571.24" stroke="#F26B1D" stroke-width="2.6" stroke-linecap="butt" />
<line x1="922.80" y1="580.53" x2="922.80" y2="559.90" stroke="#F26B1D" stroke-width="2.4" stroke-linecap="butt" />
<line x1="917.50" y1="559.90" x2="928.10" y2="559.90" stroke="#F26B1D" stroke-width="2.6" stroke-linecap="butt" />
<line x1="952.00" y1="590.96" x2="952.00" y2="569.65" stroke="#F26B1D" stroke-width="2.4" stroke-linecap="butt" />
<line x1="946.70" y1="569.65" x2="957.30" y2="569.65" stroke="#F26B1D" stroke-width="2.6" stroke-linecap="butt" />
<line x1="981.20" y1="599.58" x2="981.20" y2="570.33" stroke="#F26B1D" stroke-width="2.4" stroke-linecap="butt" />
<line x1="975.90" y1="570.33" x2="986.50" y2="570.33" stroke="#F26B1D" stroke-width="2.6" stroke-linecap="butt" />
<line x1="1010.40" y1="595.27" x2="1010.40" y2="554.68" stroke="#F26B1D" stroke-width="2.4" stroke-linecap="butt" />
<line x1="1005.10" y1="554.68" x2="1015.70" y2="554.68" stroke="#F26B1D" stroke-width="2.6" stroke-linecap="butt" />
<line x1="1039.60" y1="600.03" x2="1039.60" y2="557.18" stroke="#F26B1D" stroke-width="2.4" stroke-linecap="butt" />
<line x1="1034.30" y1="557.18" x2="1044.90" y2="557.18" stroke="#F26B1D" stroke-width="2.6" stroke-linecap="butt" />
<line x1="1068.80" y1="596.63" x2="1068.80" y2="547.43" stroke="#F26B1D" stroke-width="2.4" stroke-linecap="butt" />
<line x1="1063.50" y1="547.43" x2="1074.10" y2="547.43" stroke="#F26B1D" stroke-width="2.6" stroke-linecap="butt" />
<line x1="1098.00" y1="595.95" x2="1098.00" y2="542.89" stroke="#F26B1D" stroke-width="2.4" stroke-linecap="butt" />
<line x1="1092.70" y1="542.89" x2="1103.30" y2="542.89" stroke="#F26B1D" stroke-width="2.6" stroke-linecap="butt" />
<line x1="1127.20" y1="578.72" x2="1127.20" y2="529.06" stroke="#F26B1D" stroke-width="2.4" stroke-linecap="butt" />
<line x1="1121.90" y1="529.06" x2="1132.50" y2="529.06" stroke="#F26B1D" stroke-width="2.6" stroke-linecap="butt" />
<line x1="1156.40" y1="573.50" x2="1156.40" y2="524.53" stroke="#F26B1D" stroke-width="2.4" stroke-linecap="butt" />
<line x1="1151.10" y1="524.53" x2="1161.70" y2="524.53" stroke="#F26B1D" stroke-width="2.6" stroke-linecap="butt" />
<polyline points="776.80,598.45 806.00,599.58 835.20,596.18 864.40,589.83 893.60,579.17 922.80,580.53 952.00,590.96 981.20,599.58 1010.40,595.27 1039.60,600.03 1068.80,596.63 1098.00,595.95 1127.20,578.72 1156.40,573.50" fill="none" stroke="#F26B1D" stroke-width="3.6" stroke-linejoin="miter"/>
<circle cx="776.80" cy="598.45" r="6.60" fill="#F26B1D"/>
<circle cx="806.00" cy="599.58" r="6.60" fill="#F26B1D"/>
<circle cx="835.20" cy="596.18" r="6.60" fill="#F26B1D"/>
<circle cx="864.40" cy="589.83" r="6.60" fill="#F26B1D"/>
<circle cx="893.60" cy="579.17" r="6.60" fill="#F26B1D"/>
<circle cx="922.80" cy="580.53" r="6.60" fill="#F26B1D"/>
<circle cx="952.00" cy="590.96" r="6.60" fill="#F26B1D"/>
<circle cx="981.20" cy="599.58" r="6.60" fill="#F26B1D"/>
<circle cx="1010.40" cy="595.27" r="6.60" fill="#F26B1D"/>
<circle cx="1039.60" cy="600.03" r="6.60" fill="#F26B1D"/>
<circle cx="1068.80" cy="596.63" r="6.60" fill="#F26B1D"/>
<circle cx="1098.00" cy="595.95" r="6.60" fill="#F26B1D"/>
<circle cx="1127.20" cy="578.72" r="6.60" fill="#F26B1D"/>
<circle cx="1156.40" cy="573.50" r="6.60" fill="#F26B1D"/>
<line x1="776.80" y1="597.77" x2="776.80" y2="585.52" stroke="#1EE81E" stroke-width="2.4" stroke-linecap="butt" />
<line x1="771.50" y1="585.52" x2="782.10" y2="585.52" stroke="#1EE81E" stroke-width="2.6" stroke-linecap="butt" />
<line x1="806.00" y1="597.09" x2="806.00" y2="588.24" stroke="#1EE81E" stroke-width="2.4" stroke-linecap="butt" />
<line x1="800.70" y1="588.24" x2="811.30" y2="588.24" stroke="#1EE81E" stroke-width="2.6" stroke-linecap="butt" />
<line x1="835.20" y1="593.91" x2="835.20" y2="580.31" stroke="#1EE81E" stroke-width="2.4" stroke-linecap="butt" />
<line x1="829.90" y1="580.31" x2="840.50" y2="580.31" stroke="#1EE81E" stroke-width="2.6" stroke-linecap="butt" />
<line x1="864.40" y1="585.75" x2="864.40" y2="568.52" stroke="#1EE81E" stroke-width="2.4" stroke-linecap="butt" />
<line x1="859.10" y1="568.52" x2="869.70" y2="568.52" stroke="#1EE81E" stroke-width="2.6" stroke-linecap="butt" />
<line x1="893.60" y1="572.60" x2="893.60" y2="566.70" stroke="#1EE81E" stroke-width="2.4" stroke-linecap="butt" />
<line x1="888.30" y1="566.70" x2="898.90" y2="566.70" stroke="#1EE81E" stroke-width="2.6" stroke-linecap="butt" />
<line x1="922.80" y1="562.39" x2="922.80" y2="543.12" stroke="#1EE81E" stroke-width="2.4" stroke-linecap="butt" />
<line x1="917.50" y1="543.12" x2="928.10" y2="543.12" stroke="#1EE81E" stroke-width="2.6" stroke-linecap="butt" />
<line x1="952.00" y1="558.31" x2="952.00" y2="542.67" stroke="#1EE81E" stroke-width="2.4" stroke-linecap="butt" />
<line x1="946.70" y1="542.67" x2="957.30" y2="542.67" stroke="#1EE81E" stroke-width="2.6" stroke-linecap="butt" />
<line x1="981.20" y1="553.10" x2="981.20" y2="530.65" stroke="#1EE81E" stroke-width="2.4" stroke-linecap="butt" />
<line x1="975.90" y1="530.65" x2="986.50" y2="530.65" stroke="#1EE81E" stroke-width="2.6" stroke-linecap="butt" />
<line x1="1010.40" y1="555.14" x2="1010.40" y2="529.29" stroke="#1EE81E" stroke-width="2.4" stroke-linecap="butt" />
<line x1="1005.10" y1="529.29" x2="1015.70" y2="529.29" stroke="#1EE81E" stroke-width="2.6" stroke-linecap="butt" />
<line x1="1039.60" y1="549.02" x2="1039.60" y2="518.40" stroke="#1EE81E" stroke-width="2.4" stroke-linecap="butt" />
<line x1="1034.30" y1="518.40" x2="1044.90" y2="518.40" stroke="#1EE81E" stroke-width="2.6" stroke-linecap="butt" />
<line x1="1068.80" y1="547.88" x2="1068.80" y2="514.78" stroke="#1EE81E" stroke-width="2.4" stroke-linecap="butt" />
<line x1="1063.50" y1="514.78" x2="1074.10" y2="514.78" stroke="#1EE81E" stroke-width="2.6" stroke-linecap="butt" />
<line x1="1098.00" y1="544.71" x2="1098.00" y2="509.33" stroke="#1EE81E" stroke-width="2.4" stroke-linecap="butt" />
<line x1="1092.70" y1="509.33" x2="1103.30" y2="509.33" stroke="#1EE81E" stroke-width="2.6" stroke-linecap="butt" />
<line x1="1127.20" y1="541.76" x2="1127.20" y2="507.97" stroke="#1EE81E" stroke-width="2.4" stroke-linecap="butt" />
<line x1="1121.90" y1="507.97" x2="1132.50" y2="507.97" stroke="#1EE81E" stroke-width="2.6" stroke-linecap="butt" />
<line x1="1156.40" y1="530.20" x2="1156.40" y2="494.82" stroke="#1EE81E" stroke-width="2.4" stroke-linecap="butt" />
<line x1="1151.10" y1="494.82" x2="1161.70" y2="494.82" stroke="#1EE81E" stroke-width="2.6" stroke-linecap="butt" />
<polyline points="776.80,597.77 806.00,597.09 835.20,593.91 864.40,585.75 893.60,572.60 922.80,562.39 952.00,558.31 981.20,553.10 1010.40,555.14 1039.60,549.02 1068.80,547.88 1098.00,544.71 1127.20,541.76 1156.40,530.20" fill="none" stroke="#1EE81E" stroke-width="3.6" stroke-linejoin="miter"/>
<polygon points="770.60,593.17 783.00,593.17 776.80,604.17" fill="#1EE81E"/>
<polygon points="799.80,592.49 812.20,592.49 806.00,603.49" fill="#1EE81E"/>
<polygon points="829.00,589.31 841.40,589.31 835.20,600.31" fill="#1EE81E"/>
<polygon points="858.20,581.15 870.60,581.15 864.40,592.15" fill="#1EE81E"/>
<polygon points="887.40,568.00 899.80,568.00 893.60,579.00" fill="#1EE81E"/>
<polygon points="916.60,557.79 929.00,557.79 922.80,568.79" fill="#1EE81E"/>
<polygon points="945.80,553.71 958.20,553.71 952.00,564.71" fill="#1EE81E"/>
<polygon points="975.00,548.50 987.40,548.50 981.20,559.50" fill="#1EE81E"/>
<polygon points="1004.20,550.54 1016.60,550.54 1010.40,561.54" fill="#1EE81E"/>
<polygon points="1033.40,544.42 1045.80,544.42 1039.60,555.42" fill="#1EE81E"/>
<polygon points="1062.60,543.28 1075.00,543.28 1068.80,554.28" fill="#1EE81E"/>
<polygon points="1091.80,540.11 1104.20,540.11 1098.00,551.11" fill="#1EE81E"/>
<polygon points="1121.00,537.16 1133.40,537.16 1127.20,548.16" fill="#1EE81E"/>
<polygon points="1150.20,525.60 1162.60,525.60 1156.40,536.60" fill="#1EE81E"/>
<line x1="806.00" y1="610.92" x2="806.00" y2="597.31" stroke="#EE0A0A" stroke-width="2.4" stroke-linecap="butt" />
<line x1="800.70" y1="597.31" x2="811.30" y2="597.31" stroke="#EE0A0A" stroke-width="2.6" stroke-linecap="butt" />
<line x1="835.20" y1="639.94" x2="835.20" y2="628.61" stroke="#EE0A0A" stroke-width="2.4" stroke-linecap="butt" />
<line x1="829.90" y1="628.61" x2="840.50" y2="628.61" stroke="#EE0A0A" stroke-width="2.6" stroke-linecap="butt" />
<line x1="864.40" y1="653.32" x2="864.40" y2="641.08" stroke="#EE0A0A" stroke-width="2.4" stroke-linecap="butt" />
<line x1="859.10" y1="641.08" x2="869.70" y2="641.08" stroke="#EE0A0A" stroke-width="2.6" stroke-linecap="butt" />
<line x1="893.60" y1="659.67" x2="893.60" y2="650.15" stroke="#EE0A0A" stroke-width="2.4" stroke-linecap="butt" />
<line x1="888.30" y1="650.15" x2="898.90" y2="650.15" stroke="#EE0A0A" stroke-width="2.6" stroke-linecap="butt" />
<line x1="922.80" y1="670.10" x2="922.80" y2="656.04" stroke="#EE0A0A" stroke-width="2.4" stroke-linecap="butt" />
<line x1="917.50" y1="656.04" x2="928.10" y2="656.04" stroke="#EE0A0A" stroke-width="2.6" stroke-linecap="butt" />
<line x1="952.00" y1="670.10" x2="952.00" y2="668.06" stroke="#EE0A0A" stroke-width="2.4" stroke-linecap="butt" />
<line x1="946.70" y1="668.06" x2="957.30" y2="668.06" stroke="#EE0A0A" stroke-width="2.6" stroke-linecap="butt" />
<line x1="981.20" y1="688.47" x2="981.20" y2="682.12" stroke="#EE0A0A" stroke-width="2.4" stroke-linecap="butt" />
<line x1="975.90" y1="682.12" x2="986.50" y2="682.12" stroke="#EE0A0A" stroke-width="2.6" stroke-linecap="butt" />
<polyline points="776.80,601.62 806.00,610.92 835.20,639.94 864.40,653.32 893.60,659.67 922.80,670.10 952.00,670.10 981.20,688.47" fill="none" stroke="#EE0A0A" stroke-width="3.9" stroke-linejoin="miter"/>
<polygon points="776.80,595.92 782.50,601.62 776.80,607.32 771.10,601.62" fill="none" stroke="#EE0A0A" stroke-width="2.4"/>
<polygon points="806.00,605.22 811.70,610.92 806.00,616.62 800.30,610.92" fill="none" stroke="#EE0A0A" stroke-width="2.4"/>
<polygon points="835.20,634.24 840.90,639.94 835.20,645.64 829.50,639.94" fill="none" stroke="#EE0A0A" stroke-width="2.4"/>
<polygon points="864.40,647.62 870.10,653.32 864.40,659.02 858.70,653.32" fill="none" stroke="#EE0A0A" stroke-width="2.4"/>
<polygon points="893.60,653.97 899.30,659.67 893.60,665.37 887.90,659.67" fill="none" stroke="#EE0A0A" stroke-width="2.4"/>
<polygon points="922.80,664.40 928.50,670.10 922.80,675.80 917.10,670.10" fill="none" stroke="#EE0A0A" stroke-width="2.4"/>
<polygon points="952.00,664.40 957.70,670.10 952.00,675.80 946.30,670.10" fill="none" stroke="#EE0A0A" stroke-width="2.4"/>
<polygon points="981.20,682.77 986.90,688.47 981.20,694.17 975.50,688.47" fill="none" stroke="#EE0A0A" stroke-width="2.4"/>
<line x1="776.80" y1="591.64" x2="776.80" y2="578.04" stroke="#0808E8" stroke-width="2.4" stroke-linecap="butt" />
<line x1="771.50" y1="578.04" x2="782.10" y2="578.04" stroke="#0808E8" stroke-width="2.6" stroke-linecap="butt" />
<line x1="806.00" y1="586.43" x2="806.00" y2="569.42" stroke="#0808E8" stroke-width="2.4" stroke-linecap="butt" />
<line x1="800.70" y1="569.42" x2="811.30" y2="569.42" stroke="#0808E8" stroke-width="2.6" stroke-linecap="butt" />
<line x1="835.20" y1="590.51" x2="835.20" y2="574.87" stroke="#0808E8" stroke-width="2.4" stroke-linecap="butt" />
<line x1="829.90" y1="574.87" x2="840.50" y2="574.87" stroke="#0808E8" stroke-width="2.6" stroke-linecap="butt" />
<line x1="864.40" y1="578.49" x2="864.40" y2="559.45" stroke="#0808E8" stroke-width="2.4" stroke-linecap="butt" />
<line x1="859.10" y1="559.45" x2="869.70" y2="559.45" stroke="#0808E8" stroke-width="2.6" stroke-linecap="butt" />
<line x1="893.60" y1="567.84" x2="893.60" y2="552.19" stroke="#0808E8" stroke-width="2.4" stroke-linecap="butt" />
<line x1="888.30" y1="552.19" x2="898.90" y2="552.19" stroke="#0808E8" stroke-width="2.6" stroke-linecap="butt" />
<line x1="922.80" y1="556.73" x2="922.80" y2="533.37" stroke="#0808E8" stroke-width="2.4" stroke-linecap="butt" />
<line x1="917.50" y1="533.37" x2="928.10" y2="533.37" stroke="#0808E8" stroke-width="2.6" stroke-linecap="butt" />
<line x1="952.00" y1="545.61" x2="952.00" y2="525.66" stroke="#0808E8" stroke-width="2.4" stroke-linecap="butt" />
<line x1="946.70" y1="525.66" x2="957.30" y2="525.66" stroke="#0808E8" stroke-width="2.6" stroke-linecap="butt" />
<line x1="981.20" y1="544.71" x2="981.20" y2="517.50" stroke="#0808E8" stroke-width="2.4" stroke-linecap="butt" />
<line x1="975.90" y1="517.50" x2="986.50" y2="517.50" stroke="#0808E8" stroke-width="2.6" stroke-linecap="butt" />
<line x1="1010.40" y1="539.72" x2="1010.40" y2="514.78" stroke="#0808E8" stroke-width="2.4" stroke-linecap="butt" />
<line x1="1005.10" y1="514.78" x2="1015.70" y2="514.78" stroke="#0808E8" stroke-width="2.6" stroke-linecap="butt" />
<line x1="1039.60" y1="529.29" x2="1039.60" y2="505.93" stroke="#0808E8" stroke-width="2.4" stroke-linecap="butt" />
<line x1="1034.30" y1="505.93" x2="1044.90" y2="505.93" stroke="#0808E8" stroke-width="2.6" stroke-linecap="butt" />
<line x1="1068.80" y1="523.17" x2="1068.80" y2="497.32" stroke="#0808E8" stroke-width="2.4" stroke-linecap="butt" />
<line x1="1063.50" y1="497.32" x2="1074.10" y2="497.32" stroke="#0808E8" stroke-width="2.6" stroke-linecap="butt" />
<line x1="1098.00" y1="526.11" x2="1098.00" y2="504.57" stroke="#0808E8" stroke-width="2.4" stroke-linecap="butt" />
<line x1="1092.70" y1="504.57" x2="1103.30" y2="504.57" stroke="#0808E8" stroke-width="2.6" stroke-linecap="butt" />
<line x1="1127.20" y1="516.82" x2="1127.20" y2="491.19" stroke="#0808E8" stroke-width="2.4" stroke-linecap="butt" />
<line x1="1121.90" y1="491.19" x2="1132.50" y2="491.19" stroke="#0808E8" stroke-width="2.6" stroke-linecap="butt" />
<line x1="1156.40" y1="511.83" x2="1156.40" y2="483.94" stroke="#0808E8" stroke-width="2.4" stroke-linecap="butt" />
<line x1="1151.10" y1="483.94" x2="1161.70" y2="483.94" stroke="#0808E8" stroke-width="2.6" stroke-linecap="butt" />
<polyline points="776.80,591.64 806.00,586.43 835.20,590.51 864.40,578.49 893.60,567.84 922.80,556.73 952.00,545.61 981.20,544.71 1010.40,539.72 1039.60,529.29 1068.80,523.17 1098.00,526.11 1127.20,516.82 1156.40,511.83" fill="none" stroke="#0808E8" stroke-width="4.1" stroke-linejoin="miter"/>
<polygon points="770.60,596.25 783.00,596.25 776.80,585.25" fill="#0808E8"/>
<polygon points="799.80,591.03 812.20,591.03 806.00,580.03" fill="#0808E8"/>
<polygon points="829.00,595.11 841.40,595.11 835.20,584.11" fill="#0808E8"/>
<polygon points="858.20,583.09 870.60,583.09 864.40,572.09" fill="#0808E8"/>
<polygon points="887.40,572.44 899.80,572.44 893.60,561.44" fill="#0808E8"/>
<polygon points="916.60,561.33 929.00,561.33 922.80,550.33" fill="#0808E8"/>
<polygon points="945.80,550.21 958.20,550.21 952.00,539.21" fill="#0808E8"/>
<polygon points="975.00,549.31 987.40,549.31 981.20,538.31" fill="#0808E8"/>
<polygon points="1004.20,544.32 1016.60,544.32 1010.40,533.32" fill="#0808E8"/>
<polygon points="1033.40,533.89 1045.80,533.89 1039.60,522.89" fill="#0808E8"/>
<polygon points="1062.60,527.77 1075.00,527.77 1068.80,516.77" fill="#0808E8"/>
<polygon points="1091.80,530.71 1104.20,530.71 1098.00,519.71" fill="#0808E8"/>
<polygon points="1121.00,521.42 1133.40,521.42 1127.20,510.42" fill="#0808E8"/>
<polygon points="1150.20,516.43 1162.60,516.43 1156.40,505.43" fill="#0808E8"/>
</g>
<line x1="1185.40" y1="490.10" x2="1213.40" y2="490.10" stroke="#0808E8" stroke-width="4.0" stroke-linecap="butt" />
<polygon points="1193.20,494.70 1205.60,494.70 1199.40,483.70" fill="#0808E8"/>
<text x="1231.00" y="498.50" font-family='"Liberation Sans", sans-serif' font-size="26.4" font-weight="bold" fill="#000" text-anchor="start" >Normal</text>
<line x1="1187.30" y1="520.80" x2="1215.30" y2="520.80" stroke="#EE0A0A" stroke-width="4.0" stroke-linecap="butt" />
<polygon points="1201.30,515.10 1207.00,520.80 1201.30,526.50 1195.60,520.80" fill="none" stroke="#EE0A0A" stroke-width="2.4"/>
<text x="1232.80" y="529.20" font-family='"Liberation Sans", sans-serif' font-size="26.4" font-weight="bold" fill="#000" text-anchor="start" >Model</text>
<line x1="1187.30" y1="552.40" x2="1215.30" y2="552.40" stroke="#1EE81E" stroke-width="4.0" stroke-linecap="butt" />
<polygon points="1195.10,547.80 1207.50,547.80 1201.30,558.80" fill="#1EE81E"/>
<text x="1231.50" y="560.90" font-family='"Liberation Sans", sans-serif' font-size="26.4" font-weight="bold" fill="#000" text-anchor="start" >Oseltamivir-20 mg/kg</text>
<line x1="1189.00" y1="583.60" x2="1217.00" y2="583.60" stroke="#F26B1D" stroke-width="4.0" stroke-linecap="butt" />
<circle cx="1203.00" cy="583.60" r="6.60" fill="#F26B1D"/>
<text x="1234.90" y="592.00" font-family='"Liberation Sans", sans-serif' font-size="26.4" font-weight="bold" fill="#000" text-anchor="start" >TG003-50 mg/kg</text>
<line x1="1190.00" y1="615.20" x2="1218.00" y2="615.20" stroke="#C000C8" stroke-width="4.0" stroke-linecap="butt" />
<circle cx="1204.00" cy="615.20" r="5.30" fill="none" stroke="#C000C8" stroke-width="2.6"/>
<text x="1236.00" y="623.60" font-family='"Liberation Sans", sans-serif' font-size="26.4" font-weight="bold" fill="#000" text-anchor="start" >J10688-30 mg/kg</text>
<line x1="1191.80" y1="646.40" x2="1219.80" y2="646.40" stroke="#4FE3B5" stroke-width="4.0" stroke-linecap="butt" />
<rect x="1200.80" y="641.40" width="10.00" height="10.00" fill="#fff" fill-opacity="0" stroke="#4FE3B5" stroke-width="2.6"/>
<text x="1237.30" y="654.80" font-family='"Liberation Sans", sans-serif' font-size="26.4" font-weight="bold" fill="#000" text-anchor="start" >J10688-10 mg/kg</text>
<line x1="1193.70" y1="677.10" x2="1221.70" y2="677.10" stroke="#333333" stroke-width="4.0" stroke-linecap="butt" />
<rect x="1201.70" y="671.10" width="12.00" height="12.00" fill="#333333"/>
<text x="1238.00" y="685.80" font-family='"Liberation Sans", sans-serif' font-size="26.4" font-weight="bold" fill="#000" text-anchor="start" >J10688-3 mg/kg</text>
</svg>
</body></html>
